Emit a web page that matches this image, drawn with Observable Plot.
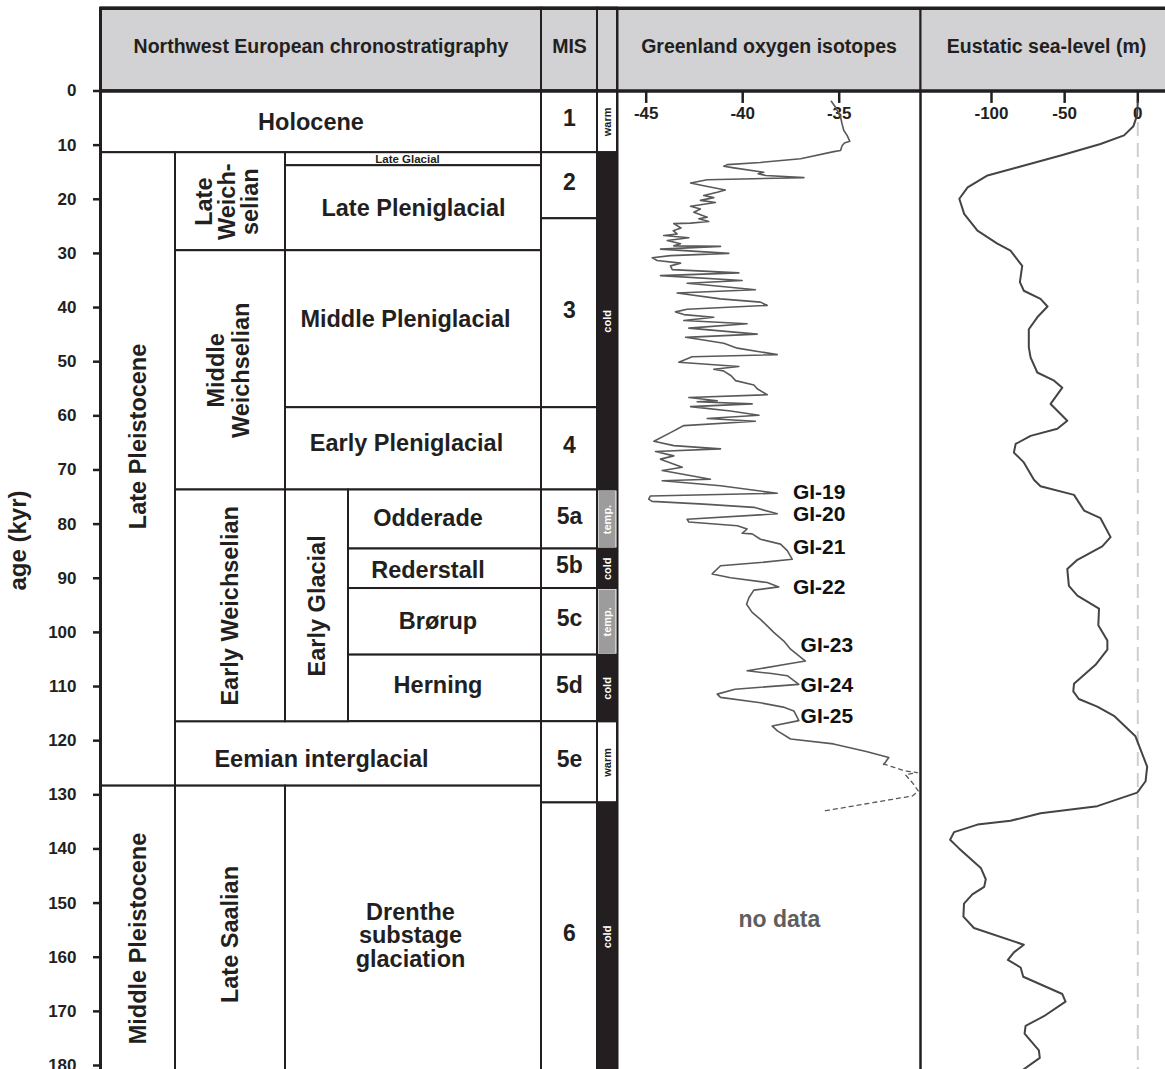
<!DOCTYPE html>
<html><head><meta charset="utf-8">
<script src="https://cdn.jsdelivr.net/npm/d3@7"></script>
<script src="https://cdn.jsdelivr.net/npm/@observablehq/plot@0.6"></script>
<style>
html,body{margin:0;padding:0;background:#fff;}
#fig{position:relative;width:1165px;height:1069px;overflow:hidden;}
#fig svg{position:absolute;top:0;}
[aria-label="y-axis label"]{font-size:24px;}
[aria-label="y-axis tick"]{stroke-width:2.5px;}
</style></head><body><div id="fig"></div>
<script>
// ================= DATA =================
const ageTicks = [0,10,20,30,40,50,60,70,80,90,100,110,120,130,140,150,160,170,180];
const isoTicks = [-45, -40, -35];
const seaTicks = [-100, -50, 0];

const headerLabels = ["Northwest European chronostratigraphy", "MIS", ""];
const headerCol1 = [0, 4, 5];
const headerCol2 = [4, 5, 6];

// chronostratigraphic units (ages in kyr; columns 0..4)
const unitNames = ["Holocene","Late Glacial","Late Pleniglacial","Middle Pleniglacial","Early Pleniglacial",
  "Odderade","Rederstall","Brørup","Herning","Eemian interglacial","Drenthe\nsubstage\nglaciation",
  "Late\nWeich-\nselian","Middle\nWeichselian","Early Weichselian","Early Glacial","Late Saalian",
  "Late Pleistocene","Middle Pleistocene"];
const unitTop  = [0, 11.4, 13.8, 29.5, 58.5, 73.7, 84.6, 91.9, 104.2, 116.5, 128.4, 11.4, 29.5, 73.7, 73.7, 128.4, 11.4, 128.4];
const unitBase = [11.4, 13.8, 29.5, 58.5, 73.7, 84.6, 91.9, 104.2, 116.5, 128.4, 181, 29.5, 73.7, 116.5, 116.5, 181, 128.4, 181];
const unitCol1 = [0, 2, 2, 2, 2, 3, 3, 3, 3, 1, 2, 1, 1, 1, 2, 1, 0, 0];
const unitCol2 = [4, 4, 4, 4, 4, 4, 4, 4, 4, 4, 4, 2, 2, 2, 3, 2, 1, 1];
const unitVertical = [false,false,false,false,false,false,false,false,false,false,false,true,true,true,true,true,true,true];

// marine isotope stages
const misLabels = ["1","2","3","4","5a","5b","5c","5d","5e","6"];
const misTop  = [0, 11.4, 23.6, 58.5, 73.7, 84.6, 91.9, 104.2, 116.5, 131.5];
const misBase = [11.4, 23.6, 58.5, 73.7, 84.6, 91.9, 104.2, 116.5, 131.5, 181];

// climate character
const climateLabels = ["warm","cold","temp.","cold","temp.","cold","warm","cold"];
const climateTop  = [0, 11.4, 73.7, 84.6, 91.9, 104.2, 116.5, 131.5];
const climateBase = [11.4, 73.7, 84.6, 91.9, 104.2, 116.5, 131.5, 181];

// Greenland δ18O record: [age kyr, δ18O ‰]
const isotopeSolid = [
 [1.9,-35.41],[3.0,-35.19],[4.8,-34.93],[6.1,-34.85],[7.3,-34.76],[8.2,-34.59],[9.3,-34.45],[9.6,-34.73],[10.1,-34.85],[11.0,-34.93],
 [11.2,-35.28],[12.5,-37.0],[13.2,-39.08],[13.6,-40.8],[13.9,-40.98],[14.2,-40.46],[15.0,-38.91],[15.3,-39.2],[15.6,-38.8],[16.0,-36.83],
 [16.2,-39.42],[16.4,-41.84],[17.0,-42.7],[17.5,-42.02],[18.3,-40.9],[18.7,-41.32],[19.3,-42.02],[19.7,-41.5],[20.2,-42.19],[20.6,-41.41],
 [21.3,-42.7],[21.8,-42.19],[22.4,-42.53],[23.3,-41.84],[23.6,-42.27],[24.1,-41.76],[24.4,-42.7],[24.5,-43.57],[25.3,-43.2],[25.8,-43.6],
 [26.4,-43.4],[26.7,-44.09],[27.1,-42.79],[27.6,-43.91],[28.2,-43.22],[28.6,-43.57],[28.7,-41.15],[29.2,-44.26],[30.0,-40.72],[30.4,-43.74],
 [30.8,-44.69],[31.3,-44.43],[31.8,-43.22],[32.3,-43.74],[33.0,-43.65],[33.6,-40.2],[34.1,-44.26],[35.0,-40.03],[35.5,-42.88],[35.8,-42.02],
 [36.7,-39.34],[37.3,-43.4],[38.4,-41.15],[39.0,-39.08],[39.6,-38.73],[40.3,-42.88],[40.8,-43.48],[41.3,-43.05],[41.8,-41.5],[42.4,-43.05],
 [43.0,-39.77],[43.8,-42.79],[44.9,-39.25],[45.5,-42.96],[45.8,-42.36],[46.6,-40.98],[47.5,-40.28],[48.7,-38.21],[49.1,-42.62],[50.1,-43.31],
 [50.9,-40.2],[51.4,-41.5],[51.7,-41.0],[52.6,-40.6],[53.5,-40.37],[54.3,-39.42],[55.0,-39.25],[56.1,-38.73],[56.6,-42.79],[57.2,-41.32],
 [57.4,-42.36],[57.8,-39.51],[58.3,-42.7],[59.1,-40.63],[59.9,-39.16],[60.5,-41.84],[61.0,-39.34],[61.8,-43.05],[63.1,-43.74],[64.7,-44.6],
 [65.5,-43.57],[66.1,-41.15],[66.6,-44.52],[67.4,-43.57],[68.0,-44.26],[69.5,-43.13],[70.1,-44.17],[71.7,-41.67],[72.0,-44.17],[72.9,-41.15],
 [74.3,-38.21],[74.8,-44.78],[75.4,-44.87],[75.8,-44.7],[76.3,-42.02],[76.9,-39.42],[78.1,-38.21],[79.1,-42.88],[79.6,-42.79],[80.3,-40.28],
 [80.9,-39.77],[81.7,-40.03],[81.8,-39.51],[82.8,-39.08],[83.7,-38.04],[84.9,-37.69],[86.5,-37.43],[87.1,-39.08],[87.7,-41.15],[89.2,-41.58],
 [89.9,-40.63],[90.8,-38.73],[91.6,-38.13],[92.2,-39.42],[93.6,-39.68],[94.8,-39.8],[96.3,-39.51],[97.6,-39.08],[98.8,-38.73],[100.0,-38.39],
 [101.6,-37.87],[103.1,-37.52],[105.3,-36.75],[105.8,-37.6],[107.1,-39.77],[107.6,-38.5],[108.0,-37.69],[109.6,-37.09],[110.5,-40.4],[111.4,-41.32],
 [112.0,-41.15],[113.0,-39.08],[113.8,-37.9],[114.5,-37.35],[116.3,-37.09],[117.3,-38.47],[118.2,-38.2],[119.7,-37.52],[120.6,-35.3],[122.0,-33.6],
 [123.1,-32.43],[124.4,-32.69]
];
const isotopeUncertain = [
 [124.3,-32.71],[125.6,-31.57],[125.9,-30.95],[126.3,-31.57],[127.8,-31.2],[129.3,-30.9],[130.2,-31.2],[133.0,-35.81]
];

// interstadial labels
const giLabels = ["GI-19","GI-20","GI-21","GI-22","GI-23","GI-24","GI-25"];
const giAge    = [74.2, 78.2, 84.3, 91.6, 102.3, 109.7, 115.5];
const giValue  = [-37.4, -37.4, -37.4, -37.4, -37.0, -37.0, -37.0];

// eustatic sea level: [age kyr, metres]
const seaLevel = [
 [2.0,0],[4.5,-0.5],[6.5,-3],[8.2,-9.4],[9.8,-25.5],[11.9,-52.7],[14.1,-82],[15.6,-102.7],[17.8,-116.3],[19.9,-122],
 [22.7,-118.7],[25.8,-109.6],[28.2,-96],[29.5,-87],[32.3,-79],[35.3,-80.6],[36.9,-77.9],[38.4,-66.5],[39.8,-61.7],[41.8,-68.7],
 [44.0,-74.5],[47.3,-74.5],[49.2,-73.3],[52.0,-68.7],[53.5,-57.2],[54.8,-51.6],[57.8,-59.6],[60.9,-48.2],[62.4,-55],[63.7,-73.3],
 [65.2,-83.5],[66.8,-84.7],[68.6,-77.9],[71.8,-71],[73.0,-66.5],[74.6,-43.6],[77.5,-36.7],[78.9,-25.5],[82.4,-18.6],[84.1,-24.3],
 [86.6,-41.3],[88.3,-48.2],[91.4,-47.1],[93.2,-41.3],[95.6,-26.5],[98.7,-27],[101.5,-20.8],[103.2,-20.8],[106.0,-28.9],[109.5,-43.6],
 [110.9,-44.1],[112.3,-40.3],[113.7,-27.7],[115.4,-16.3],[119.2,-1.6],[124.8,6.4],[127.5,5.3],[129.6,-0.4],[132.1,-27.7],[133.4,-66.5],
 [134.8,-87],[135.5,-109.6],[136.9,-125.6],[138.3,-128.3],[139.9,-122.2],[143.5,-107.3],[145.6,-103.9],[147.0,-105],[148.4,-113.1],[150.1,-118.8],
 [152.5,-119.2],[154.6,-112],[157.7,-77.9],[159.1,-84.7],[160.5,-88.8],[161.9,-80.1],[163.6,-78.3],[166.8,-51.6],[168.2,-49.4],[170.9,-64.2],
 [172.7,-76.7],[174.1,-77.4],[177.2,-67.6],[178.6,-67],[180.9,-79]
];

// ================= LAYOUT / STYLE =================
const FONT = '"Liberation Sans", Arial, Helvetica, sans-serif';
const INK = "#231f20";
const HEADER_FILL = "#d2d2d4";
const HEADER_TOP = -15.3;          // header top, in age units of the shared y scale
const Y_RANGE = [90.5, 1065];
const COL_IDX = [0, 1, 2, 3, 4, 5, 6];
const COL_EDGES = [100, 175, 285, 348, 541, 597, 617];
const H = 1069;
const CELL_FONT = 23.5;
const LABEL_OFFSET = {
  "Holocene": [-10, 0], "Late Glacial": [-6, 0], "Middle Pleniglacial": [-8, -10], "Early Pleniglacial": [-7, -6],
  "Odderade": [-17, -1], "Rederstall": [-17, 1], "Brørup": [-7, -1], "Herning": [-7, -3],
  "Eemian interglacial": [-37, 5], "Drenthe\nsubstage\nglaciation": [-3, 7],
  "Late Pleistocene": [0, -33], "Middle Pleistocene": [0, 10], "Late Saalian": [0, 6],
  "Late\nWeich-\nselian": [-3, 0], "Middle\nWeichselian": [-2, 0]
};
const LINE_HEIGHT = {"Late\nWeich-\nselian": 0.97, "Middle\nWeichselian": 1.07, "Drenthe\nsubstage\nglaciation": 1.0};
const baseStyle = {background: "none", overflow: "hidden", fontFamily: FONT, fontSize: "17px", fontWeight: "bold", color: INK};
const yOpts = {domain: [0, 180], range: Y_RANGE};

const fig = document.getElementById("fig");
function place(svg, left) { svg.style.left = left + "px"; fig.appendChild(svg); }

// ---------- Panel A : chronostratigraphy ----------
const colScale = Plot.scale({x: {type: "linear", domain: COL_IDX, range: COL_EDGES}});
const colMid = (a, b) => colScale.invert((colScale.apply(a) + colScale.apply(b)) / 2);

const unitTextMarks = unitNames.map((name, i) => {
  const off = LABEL_OFFSET[name] || [0, 0];
  return Plot.text([i], {
    x: j => colMid(unitCol1[j], unitCol2[j]),
    y: j => (unitTop[j] + unitBase[j]) / 2,
    text: j => unitNames[j],
    rotate: unitVertical[i] ? -90 : 0,
    dx: off[0], dy: off[1],
    fontSize: name === "Late Glacial" ? 11.5 : CELL_FONT,
    lineHeight: LINE_HEIGHT[name] || 1.05,
    fill: INK
  });
});

const climateFill = {cold: INK, "temp.": "#9c9c9c", warm: "white"};
const climateText = {cold: "white", "temp.": "white", warm: INK};
const climIdx = d3.range(climateLabels.length);

const panelA = Plot.plot({
  width: 620, height: H,
  marginLeft: 100, marginTop: 90, marginBottom: 79, marginRight: 0,
  style: baseStyle,
  x: {type: "linear", domain: COL_IDX, range: COL_EDGES, axis: null},
  y: {...yOpts, axis: "left", ticks: ageTicks, tickSize: 7, tickPadding: 17, tickFormat: d => String(d),
      label: "age (kyr)", labelAnchor: "center", labelOffset: 92, labelArrow: false},
  marks: [
    Plot.rect(d3.range(headerLabels.length), {x1: i => headerCol1[i], x2: i => headerCol2[i], y1: HEADER_TOP, y2: 0,
      fill: HEADER_FILL, stroke: INK, strokeWidth: 2}),
    Plot.rect(d3.range(unitNames.length), {x1: i => unitCol1[i], x2: i => unitCol2[i], y1: i => unitTop[i], y2: i => unitBase[i],
      fill: "white", stroke: INK, strokeWidth: 2}),
    Plot.rect(d3.range(misLabels.length), {x1: 4, x2: 5, y1: i => misTop[i], y2: i => misBase[i],
      fill: "white", stroke: INK, strokeWidth: 2}),
    Plot.rect(climIdx.filter(i => climateLabels[i] === "warm"), {x1: 5, x2: 6, y1: i => climateTop[i], y2: i => climateBase[i],
      fill: "white", stroke: INK, strokeWidth: 2}),
    Plot.rect(climIdx.filter(i => climateLabels[i] === "cold"), {x1: 5, x2: 6, y1: i => climateTop[i], y2: i => climateBase[i],
      fill: INK, stroke: INK, strokeWidth: 2}),
    Plot.rect(climIdx.filter(i => climateLabels[i] === "temp."), {x1: 5, x2: 6, y1: i => climateTop[i], y2: i => climateBase[i],
      fill: climateFill["temp."], inset: 1.5}),
    Plot.ruleY([HEADER_TOP, 0], {x1: 0, x2: 6, stroke: INK, strokeWidth: 3.5}),
    Plot.ruleX([0], {y1: HEADER_TOP, y2: 181, stroke: INK, strokeWidth: 3}),
    Plot.text(d3.range(headerLabels.length), {x: i => colMid(headerCol1[i], headerCol2[i]), y: HEADER_TOP / 2 - 0.5,
      text: i => headerLabels[i], fontSize: 19.5, fill: INK}),
    ...unitTextMarks,
    Plot.text(d3.range(misLabels.length), {x: colMid(4, 5), y: i => (misTop[i] + misBase[i]) / 2, text: i => misLabels[i],
      fontSize: 23, dy: -3, fill: INK}),
    Plot.text(climIdx, {x: colMid(5, 6), y: i => (climateTop[i] + climateBase[i]) / 2, text: i => climateLabels[i],
      rotate: -90, fontSize: 11, fill: i => climateText[climateLabels[i]]})
  ]
});
place(panelA, 0);

// ---------- Panel B : Greenland oxygen isotopes ----------
const B_LEFT = 615, B_W = 308;
const isoOpts = {type: "linear", domain: [-45, -35], range: [30.7, 223.7]};
const isoScale = Plot.scale({x: isoOpts});
const isoL = isoScale.invert(617 - B_LEFT), isoR = isoScale.invert(920 - B_LEFT);

const panelB = Plot.plot({
  width: B_W, height: H, margin: 0,
  style: baseStyle,
  x: {...isoOpts, axis: null},
  y: {...yOpts, axis: null},
  marks: [
    Plot.rect([0], {x1: isoL, x2: isoR, y1: HEADER_TOP, y2: 0, fill: HEADER_FILL}),
    Plot.ruleY([HEADER_TOP, 0], {x1: isoL, x2: isoR, stroke: INK, strokeWidth: 3.5}),
    Plot.ruleX([isoL, isoR], {y1: HEADER_TOP, y2: 181, stroke: INK, strokeWidth: 2}),
    Plot.text(["Greenland oxygen isotopes"], {x: (isoL + isoR) / 2, y: HEADER_TOP / 2 - 0.5, text: d => d, fontSize: 19.5, fill: INK}),
    Plot.ruleX(isoTicks, {x: d => d, y1: 0, y2: 2.3, stroke: INK, strokeWidth: 2.5}),
    Plot.text(isoTicks, {x: d => d, y: 4.1, text: d => String(d), fontSize: 17, fill: INK}),
    Plot.line(isotopeSolid, {x: d => d[1], y: d => d[0], stroke: "#595959", strokeWidth: 1.6, strokeLinejoin: "round"}),
    Plot.line(isotopeUncertain, {x: d => d[1], y: d => d[0], stroke: "#595959", strokeWidth: 1.3, strokeDasharray: "4,4"}),
    Plot.text(d3.range(giLabels.length), {x: i => giValue[i], y: i => giAge[i], text: i => giLabels[i],
      textAnchor: "start", fontSize: 21, fill: "#111"}),
    Plot.text(["no data"], {x: -38.1, y: 153, text: d => d, fontSize: 23, fill: "#5e5e5e"})
  ]
});
place(panelB, B_LEFT);

// ---------- Panel C : eustatic sea level ----------
const C_LEFT = 918, C_W = 1165 - 918;
const seaOpts = {type: "linear", domain: [-100, 0], range: [73, 219.3]};
const seaScale = Plot.scale({x: seaOpts});
const seaL = seaScale.invert(920 - C_LEFT), seaR = seaScale.invert(C_W + 5);

const panelC = Plot.plot({
  width: C_W, height: H, margin: 0,
  style: baseStyle,
  x: {...seaOpts, axis: null},
  y: {...yOpts, axis: null},
  marks: [
    Plot.rect([0], {x1: seaL, x2: seaR, y1: HEADER_TOP, y2: 0, fill: HEADER_FILL}),
    Plot.ruleY([HEADER_TOP, 0], {x1: seaL, x2: seaR, stroke: INK, strokeWidth: 3.5}),
    Plot.ruleX([seaL], {y1: HEADER_TOP, y2: 181, stroke: INK, strokeWidth: 2}),
    Plot.text(["Eustatic sea-level (m)"], {x: seaScale.invert(128), y: HEADER_TOP / 2 - 0.5, text: d => d, fontSize: 19.5, fill: INK}),
    Plot.ruleX([0], {y1: 5.8, y2: 181, stroke: "#cfcfcf", strokeWidth: 2, strokeDasharray: "14,7"}),
    Plot.ruleX(seaTicks, {x: d => d, y1: 0, y2: 2.3, stroke: INK, strokeWidth: 2.5}),
    Plot.text(seaTicks, {x: d => d, y: 4.1, text: d => String(d), fontSize: 17, fill: INK}),
    Plot.line(seaLevel, {x: d => d[1], y: d => d[0], stroke: "#444", strokeWidth: 2, strokeLinejoin: "round"})
  ]
});
place(panelC, C_LEFT);
</script></body></html>
